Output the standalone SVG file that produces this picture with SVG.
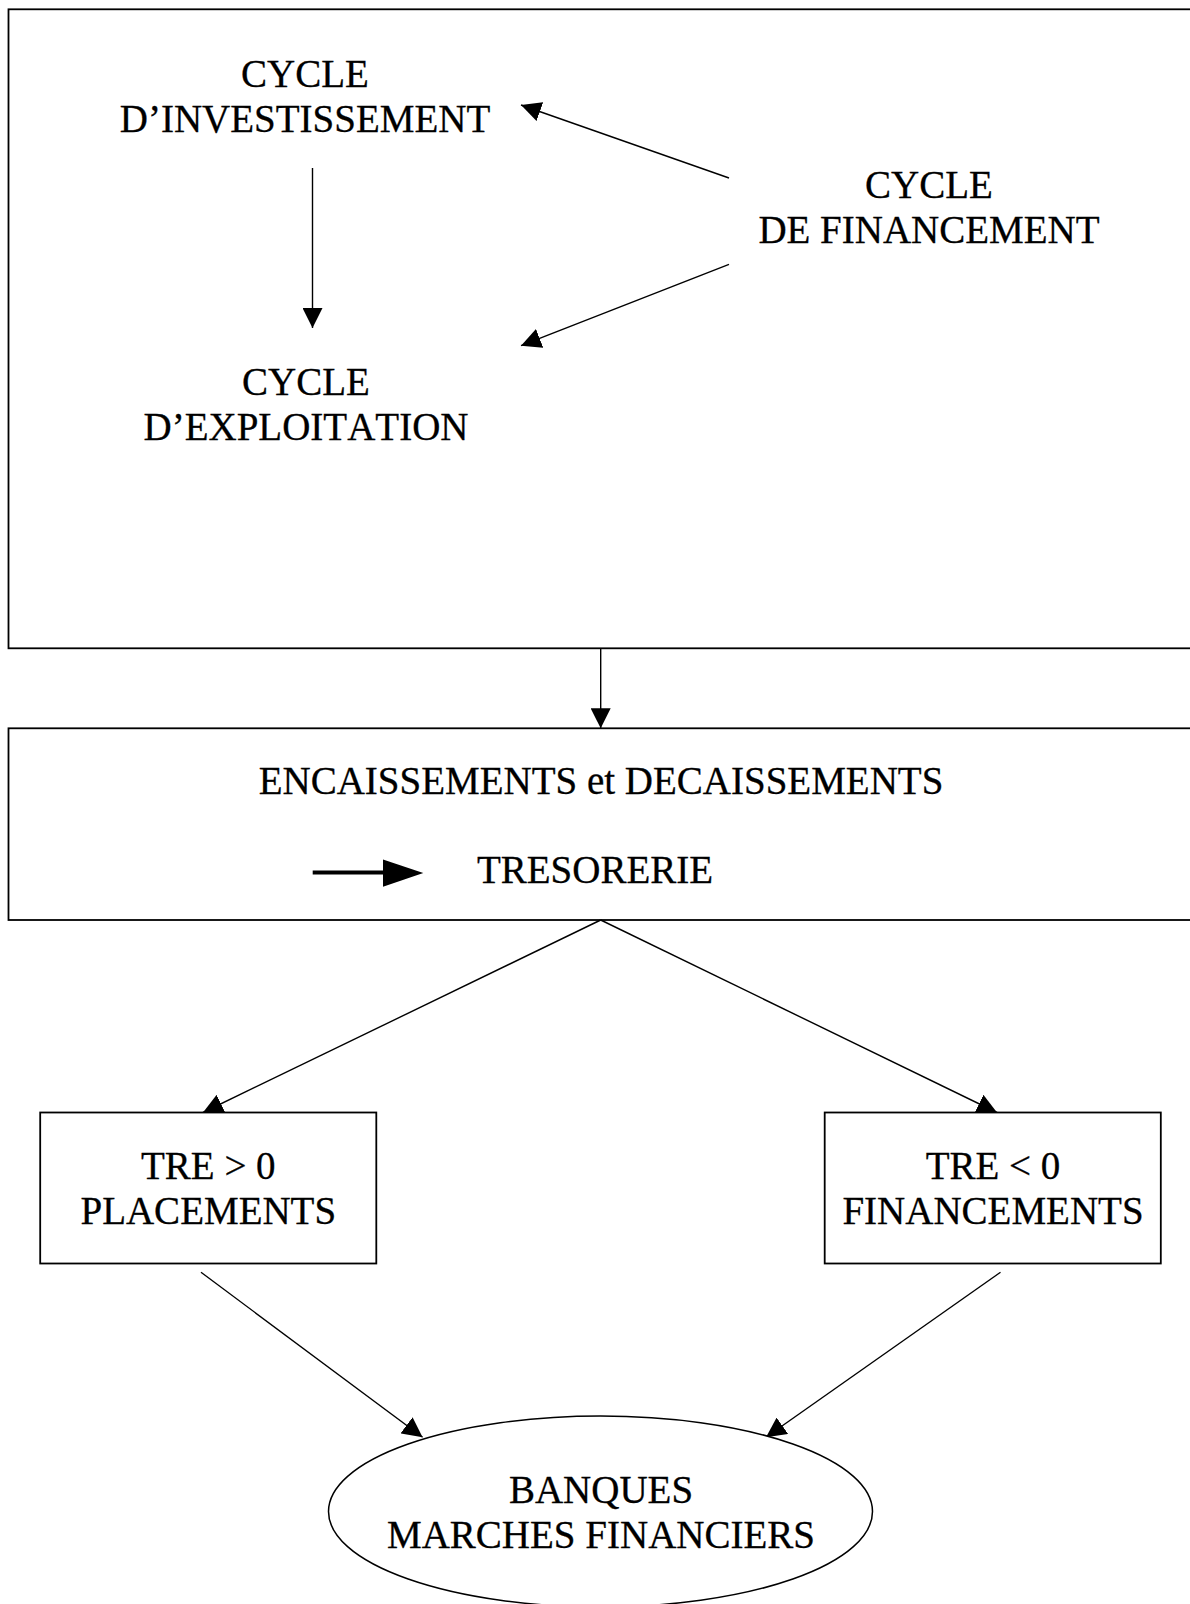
<svg xmlns="http://www.w3.org/2000/svg" width="1190" height="1604" viewBox="0 0 1190 1604">
<style>
text{font-family:"Liberation Serif","Times New Roman",serif;font-size:39px;fill:#000;text-anchor:middle;font-kerning:none;stroke:#000;stroke-width:0.3}
.box{fill:#fff;stroke:#000;stroke-width:1.8}
.ln{stroke:#000;stroke-width:1.4;fill:none}
</style>
<defs>
<marker id="ah" markerUnits="userSpaceOnUse" markerWidth="20" markerHeight="20" refX="20" refY="10" orient="auto" viewBox="0 0 20 20">
<path d="M0,0 L20,10 L0,20 z" fill="#000"/>
</marker>
</defs>
<rect width="1190" height="1604" fill="#fff"/>
<g id="n-cycles-frame">
<rect class="box" x="8.5" y="9.3" width="1195" height="639"/>
</g>
<g id="n-tresorerie">
<rect class="box" x="8.5" y="728.3" width="1195" height="191.7"/>
<text x="601" y="794">ENCAISSEMENTS et DECAISSEMENTS</text>
<line x1="312.7" y1="872.6" x2="385" y2="872.6" stroke="#000" stroke-width="4"/>
<polygon points="383,859.5 423.3,873 383,886.7" fill="#000"/>
<text x="595" y="883.3">TRESORERIE</text>
</g>
<g id="connectors">
<line class="ln" x1="312.5" y1="168" x2="312.5" y2="328" marker-end="url(#ah)"/>
<line class="ln" x1="729" y1="178" x2="521" y2="105" marker-end="url(#ah)"/>
<line class="ln" x1="729" y1="264.3" x2="521" y2="345.7" marker-end="url(#ah)"/>
<line class="ln" x1="600.7" y1="648.3" x2="600.7" y2="728.3" marker-end="url(#ah)"/>
<line class="ln" x1="600.7" y1="920" x2="203" y2="1112.5" marker-end="url(#ah)"/>
<line class="ln" x1="600.7" y1="920" x2="997" y2="1112.5" marker-end="url(#ah)"/>
<line class="ln" x1="201" y1="1272.3" x2="422.6" y2="1437.3" marker-end="url(#ah)"/>
<line class="ln" x1="1000.5" y1="1272.3" x2="766" y2="1437.3" marker-end="url(#ah)"/>
</g>
<g id="n-investissement">
<text x="305" y="87.3">CYCLE</text>
<text x="305" y="131.7">D’INVESTISSEMENT</text>
</g>
<g id="n-financement">
<text x="929" y="198.3">CYCLE</text>
<text x="929" y="243.3">DE FINANCEMENT</text>
</g>
<g id="n-exploitation">
<text x="306" y="395">CYCLE</text>
<text x="306" y="440">D’EXPLOITATION</text>
</g>
<g id="n-placements">
<rect class="box" x="40.2" y="1112.5" width="336.1" height="151"/>
<text x="208.3" y="1179">TRE &gt; 0</text>
<text x="208.3" y="1224">PLACEMENTS</text>
</g>
<g id="n-financements">
<rect class="box" x="824.7" y="1112.5" width="336.1" height="151"/>
<text x="993" y="1179">TRE &lt; 0</text>
<text x="993" y="1224">FINANCEMENTS</text>
</g>
<g id="n-banques">
<ellipse cx="600.5" cy="1511.5" rx="272" ry="95.5" fill="#fff" stroke="#000" stroke-width="1.5"/>
<text x="601" y="1503.3">BANQUES</text>
<text x="601" y="1548.3">MARCHES FINANCIERS</text>
</g>
</svg>
